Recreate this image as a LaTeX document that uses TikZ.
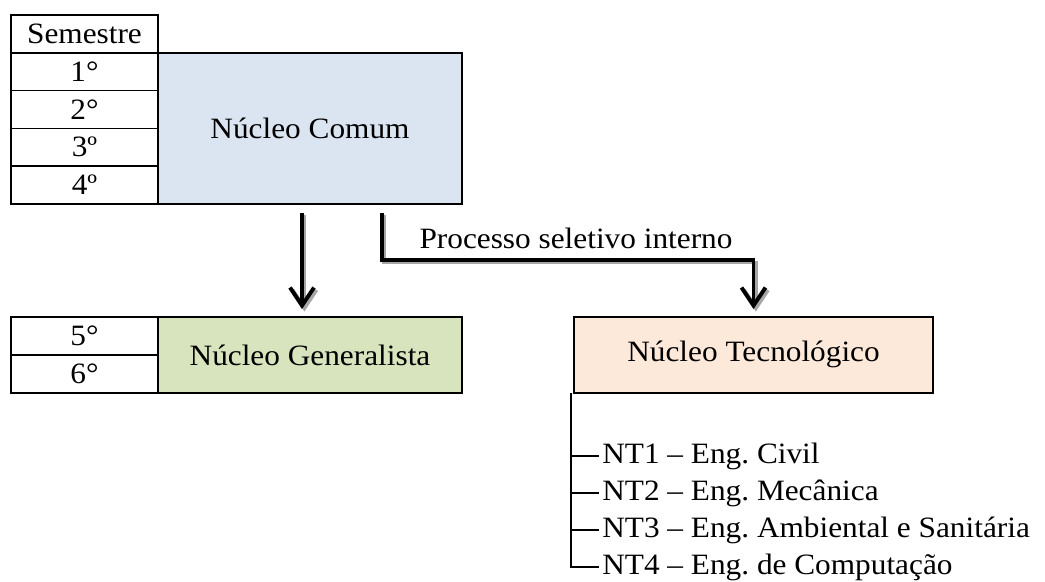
\documentclass[tikz,border=0pt]{standalone}
\usepackage{fontspec}
\setmainfont{Liberation Serif}[FakeStretch=1.06]
\usepackage{xcolor}
\usepackage{tikz}
\usetikzlibrary{arrows.meta,positioning}

\definecolor{comumblue}{RGB}{219,229,241}
\definecolor{geralgreen}{RGB}{215,228,189}
\definecolor{tecpeach}{RGB}{253,233,217}

\tikzset{
  cell/.style={draw, line width=1.2pt, minimum width=3.675cm, minimum height=0.945cm,
               inner sep=0pt, outer sep=0pt},
  nucleo/.style={draw, line width=1.2pt, inner sep=0pt, outer sep=0pt},
  flow/.style={line width=2.8pt, -{Straight Barb[length=0.45cm,width=0.6cm]}},
  flowshadow/.style={flow, draw=black!35, transform canvas={shift={(0.06,-0.06)}}},
  treeline/.style={line width=0.8pt},
  item/.style={inner sep=0.075cm}
}

\begin{document}
\frenchspacing
\begin{tikzpicture}[font=\fontsize{21pt}{25pt}\selectfont]
                \useasboundingbox (0,0) rectangle (26.125,-14.55);

                % semestres 1 a 4
                \node [cell] (sem) at (2.1125,-0.8475) {Semestre};
                \node [cell, below = 0pt of sem] (s1) {1°};
                \node [cell, below = 0pt of s1] (s2) {2°};
                \node [cell, below = 0pt of s2] (s3) {3º};
                \node [cell, below = 0pt of s3] (s4) {4º};
                \node [nucleo, fill=comumblue, minimum width=7.6cm,
                        minimum height=3.78cm, anchor=north west]
                                        (comum) at (s1.north east) {Núcleo Comum};

                % semestres 5 e 6
                \node [cell] (s5) at (2.1125,-8.4) {5°};
                \node [cell, below = 0pt of s5] (s6) {6°};
                \node [nucleo, fill=geralgreen, minimum width=7.6cm,
                        minimum height=1.89cm, anchor=north west]
                                        (geral) at (s5.north east) {Núcleo Generalista};
                \node [nucleo, fill=tecpeach, minimum width=8.975cm,
                        minimum height=1.89cm, right = 2.8cm of geral]
                                        (tecno) {Núcleo Tecnológico};

                % setas
                \coordinate (a1) at ([xshift=-0.2cm,yshift=-0.225cm]comum.south);
                \coordinate (b1) at ([xshift=-0.2cm,yshift=0.2cm]geral.north);
                \coordinate (a2) at ([xshift=1.8cm,yshift=-0.225cm]comum.south);
                \coordinate (bend) at ([yshift=1.425cm]tecno.north);
                \coordinate (b2) at ([yshift=0.2cm]tecno.north);

                \draw [flowshadow] (a1) -- (b1);
                \draw [flowshadow] (a2) |- (bend) -- (b2);
                \draw [flow] (a1) -- (b1);
                \draw [flow] (a2) |- (bend) -- (b2);
                \node [anchor=base] (psi) at (14.4,-6.2) {Processo seletivo interno};

                % nucleos tecnologicos
                \node [item, anchor=west] (nt1) at (14.975,-11.4) {NT1 -- Eng. Civil};
                \node [item, below = 0.925cm of nt1.west, anchor=west] (nt2) {NT2 -- Eng. Mecânica};
                \node [item, below = 0.925cm of nt2.west, anchor=west] (nt3) {NT3 -- Eng. Ambiental e Sanitária};
                \node [item, below = 0.925cm of nt3.west, anchor=west] (nt4) {NT4 -- Eng. de Computação};

                \coordinate (treetop) at ([xshift=-0.075cm]tecno.south west);
                \draw [treeline] (treetop) |- (nt4.west);
                \foreach \n in {1,2,3}
                    \draw [treeline] (treetop |- nt\n.west) -- (nt\n.west);
            \end{tikzpicture}
\end{document}
